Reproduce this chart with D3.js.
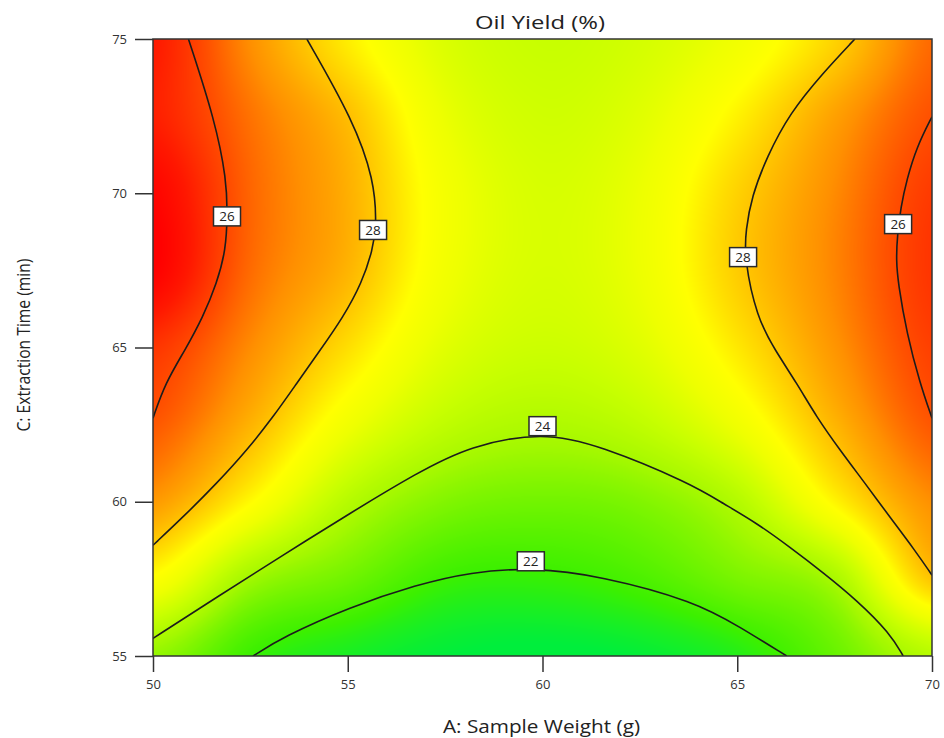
<!DOCTYPE html>
<html>
<head>
<meta charset="utf-8">
<script src="https://cdn.jsdelivr.net/npm/d3@7"></script>
<style>
  body { margin: 0; background: #fff; }
  svg { display: block; }
</style>
</head>
<body>
<svg id="chart" width="944" height="738"></svg>
<script>
// Axis ticks (factor levels)
const xTicks = [50, 55, 60, 65, 70];
const yTicks = [55, 60, 65, 70, 75];

// Oil yield (%) sampled on a 2.5 x 2.5 grid of sample weight (g) and extraction time (min)
const gridX = [50, 52.5, 55, 57.5, 60, 62.5, 65, 67.5, 70];
const gridY = [55, 57.5, 60, 62.5, 65, 67.5, 70, 72.5, 75];
const yieldRow55   = [23.7, 22.0, 21.4, 21.02, 20.9, 21.07, 21.6, 22.82, 24.5];
const yieldRow57_5 = [26.6, 23.95, 22.98, 22.0, 21.9, 22.3, 23.17, 24.15, 27.9];
const yieldRow60   = [28.8, 26.78, 24.5, 23.34, 23.03, 23.32, 24.42, 26.89, 29.0];
const yieldRow62_5 = [29.9, 28.28, 26.15, 24.76, 24.3, 24.75, 26.1, 28.22, 29.9];
const yieldRow65   = [30.5, 29.06, 27.37, 25.67, 25.1, 25.62, 27.16, 28.89, 30.3];
const yieldRow67_5 = [31.6, 29.59, 28.25, 26.19, 25.4, 25.99, 27.75, 29.17, 30.5];
const yieldRow70   = [31.5, 29.68, 28.36, 26.27, 25.4, 25.96, 27.63, 29.08, 30.4];
const yieldRow72_5 = [30.9, 29.47, 28.05, 25.93, 25.2, 25.64, 26.96, 28.65, 30.0];
const yieldRow75   = [31.0, 29.0, 27.05, 25.5, 25.0, 25.3, 26.15, 27.6, 29.6];

// Contour lines: [sample weight, extraction time] points along each labelled level
const contour26Left = [[50.91,75],[51.59,72.37],[51.89,70.43],[51.91,69.29],[51.87,68.16],[51.64,67.09],[51.28,65.98],[50.82,64.91],[50.31,63.84],[50,62.71]];
const contour28Left = [[53.95,75],[55.14,72.37],[55.68,70.43],[55.74,68.97],[55.64,68.16],[55.36,67.09],[54.88,65.98],[54.29,64.91],[53.69,63.84],[53.08,62.74],[52.41,61.67],[51.64,60.60],[50.77,59.50],[50,58.59]];
const contour28Right = [[68.02,75],[67.20,73.90],[66.35,72.60],[65.76,71.18],[65.37,69.89],[65.22,68.81],[65.18,67.90],[65.50,65.98],[65.97,64.91],[66.53,63.84],[67.04,62.74],[67.64,61.67],[68.28,60.60],[68.92,59.50],[69.56,58.43],[70,57.62]];
const contour26Right = [[70,72.48],[69.61,71.51],[69.35,70.43],[69.20,69.56],[69.11,68.64],[69.08,67.83],[69.13,67.09],[69.35,65.47],[69.69,63.84],[70,62.71]];
const contour24 = [[50,55.57],[51.64,56.91],[53.34,58.27],[55.06,59.63],[56.77,60.93],[58.14,61.82],[60.01,62.26],[61.48,61.82],[63.79,60.60],[64.63,59.95],[65.51,59.30],[66.35,58.53],[67.20,57.71],[68.07,56.81],[68.92,55.74],[69.26,55]];
const contour22 = [[52.57,55],[53.34,55.62],[55.06,56.59],[56.77,57.31],[58.14,57.72],[59.76,57.87],[61.48,57.60],[63.92,56.77],[65.07,55.94],[66.27,55]];

// Level of each line and where its tag sits (data units)
const contourLevels = [26, 28, 28, 26, 24, 22];
const contourLabelAt = [[51.90,69.25],[55.65,68.81],[65.15,67.93],[69.13,69.0],[60.0,62.45],[59.70,58.07]];

// Colour ramp for the yield surface
const colorStops = [21, 22, 23, 24, 25, 26, 26.7, 28, 29, 30, 31, 31.6];
const colorRange = ["#00ee3c","#3cf000","#70f400","#a4f800","#c8ff00","#eeff00","#ffff00","#ffc000","#ff9000","#ff5000","#ff1800","#ff0000"];

const gridValues = [yieldRow55, yieldRow57_5, yieldRow60, yieldRow62_5, yieldRow65,
                    yieldRow67_5, yieldRow70, yieldRow72_5, yieldRow75];
const contours = [contour26Left, contour28Left, contour28Right, contour26Right, contour24, contour22]
  .map((pts, i) => ({ level: contourLevels[i], points: pts, labelAt: contourLabelAt[i] }));

const svg = d3.select("#chart");
const plotLeft = 153, plotRight = 932, plotTop = 39, plotBottom = 656;

const x = d3.scaleLinear().domain([50, 70]).range([plotLeft, plotRight]);
const y = d3.scaleLinear().domain([55, 75]).range([plotBottom, plotTop]);
const color = d3.scaleLinear().domain(colorStops).range(colorRange).clamp(true);

// ---- surface raster (bicubic Catmull-Rom over the yield grid) ----
const W = plotRight - plotLeft, H = plotBottom - plotTop;
const canvas = document.createElement("canvas");
canvas.width = W; canvas.height = H;
const ctx = canvas.getContext("2d");
const img = ctx.createImageData(W, H);

const lutMin = 19, lutMax = 33, lutN = 2048;
const lut = d3.range(lutN).map(i => d3.rgb(color(lutMin + (lutMax - lutMin) * i / (lutN - 1))));

const nx = gridX.length, ny = gridY.length;
const g = (i, j) => gridValues[Math.max(0, Math.min(ny - 1, j))][Math.max(0, Math.min(nx - 1, i))];
const cr = (p0, p1, p2, p3, t) =>
  0.5 * (2 * p1 + (-p0 + p2) * t + (2 * p0 - 5 * p1 + 4 * p2 - p3) * t * t + (-p0 + 3 * p1 - 3 * p2 + p3) * t * t * t);
const stepX = gridX[1] - gridX[0], stepY = gridY[1] - gridY[0];

function surface(xv, yv) {
  const fx = (xv - gridX[0]) / stepX, fy = (yv - gridY[0]) / stepY;
  let i = Math.floor(fx), j = Math.floor(fy);
  i = Math.max(0, Math.min(nx - 2, i)); j = Math.max(0, Math.min(ny - 2, j));
  const tx = fx - i, ty = fy - j;
  const rows = [-1, 0, 1, 2].map(dj =>
    cr(g(i - 1, j + dj), g(i, j + dj), g(i + 1, j + dj), g(i + 2, j + dj), tx));
  return cr(rows[0], rows[1], rows[2], rows[3], ty);
}

for (let py = 0; py < H; py++) {
  const yv = y.invert(plotTop + py + 0.5);
  for (let px = 0; px < W; px++) {
    const xv = x.invert(plotLeft + px + 0.5);
    const v = surface(xv, yv);
    let k = Math.round((v - lutMin) / (lutMax - lutMin) * (lutN - 1));
    k = Math.max(0, Math.min(lutN - 1, k));
    const c = lut[k], o = (py * W + px) * 4;
    img.data[o] = c.r; img.data[o + 1] = c.g; img.data[o + 2] = c.b; img.data[o + 3] = 255;
  }
}
ctx.putImageData(img, 0, 0);

svg.append("image")
  .attr("x", plotLeft).attr("y", plotTop)
  .attr("width", W).attr("height", H)
  .attr("preserveAspectRatio", "none")
  .attr("href", canvas.toDataURL());

// ---- contour lines ----
svg.append("clipPath").attr("id", "plotClip")
  .append("rect").attr("x", plotLeft).attr("y", plotTop).attr("width", W).attr("height", H);

const line = d3.line().x(d => x(d[0])).y(d => y(d[1])).curve(d3.curveBasis);

svg.append("g").attr("clip-path", "url(#plotClip)")
  .selectAll("path").data(contours).join("path")
  .attr("d", d => line(d.points))
  .attr("fill", "none")
  .attr("stroke", "#1c1c1c")
  .attr("stroke-width", 1.6);

// ---- frame and axes ----
svg.append("rect")
  .attr("x", plotLeft).attr("y", plotTop).attr("width", W).attr("height", H)
  .attr("fill", "none").attr("stroke", "#333").attr("stroke-width", 1.5);

const fontFamily = "'Open Sans', 'DejaVu Sans', sans-serif";

const yAxis = svg.append("g").attr("transform", `translate(${plotLeft},0)`)
  .call(d3.axisLeft(y).tickValues(yTicks).tickSize(18).tickPadding(8));
const xAxis = svg.append("g").attr("transform", `translate(0,${plotBottom})`)
  .call(d3.axisBottom(x).tickValues(xTicks).tickSize(16).tickPadding(8));

[xAxis, yAxis].forEach(a => {
  a.select(".domain").remove();
  a.selectAll(".tick line").attr("stroke", "#333").attr("stroke-width", 1.5);
  a.selectAll(".tick text")
    .attr("fill", "#333")
    .style("font-family", fontFamily)
    .style("font-size", "13px");
});

// ---- contour tags ----
const tags = svg.append("g").selectAll("g").data(contours).join("g")
  .attr("transform", d => `translate(${x(d.labelAt[0])},${y(d.labelAt[1])})`);
tags.append("rect")
  .attr("x", -13.5).attr("y", -9.5).attr("width", 27).attr("height", 19)
  .attr("fill", "#fff").attr("stroke", "#2a2a2a").attr("stroke-width", 1.5);
tags.append("text")
  .attr("text-anchor", "middle").attr("dy", "0.36em")
  .attr("fill", "#222")
  .style("font-family", fontFamily).style("font-size", "13.5px")
  .text(d => d.level);

// ---- titles ----
svg.append("text")
  .attr("x", 540).attr("y", 29)
  .attr("text-anchor", "middle")
  .attr("textLength", 130).attr("lengthAdjust", "spacingAndGlyphs")
  .attr("fill", "#222")
  .style("font-family", fontFamily).style("font-size", "18px")
  .text("Oil Yield (%)");

svg.append("text")
  .attr("x", 541.5).attr("y", 733)
  .attr("text-anchor", "middle")
  .attr("textLength", 197).attr("lengthAdjust", "spacingAndGlyphs")
  .attr("fill", "#222")
  .style("font-family", fontFamily).style("font-size", "18px")
  .text("A: Sample Weight (g)");

svg.append("text")
  .attr("transform", "translate(29.5,345) rotate(-90)")
  .attr("text-anchor", "middle")
  .attr("textLength", 173).attr("lengthAdjust", "spacingAndGlyphs")
  .attr("fill", "#222")
  .style("font-family", fontFamily).style("font-size", "18px")
  .text("C: Extraction Time (min)");
</script>
</body>
</html>
